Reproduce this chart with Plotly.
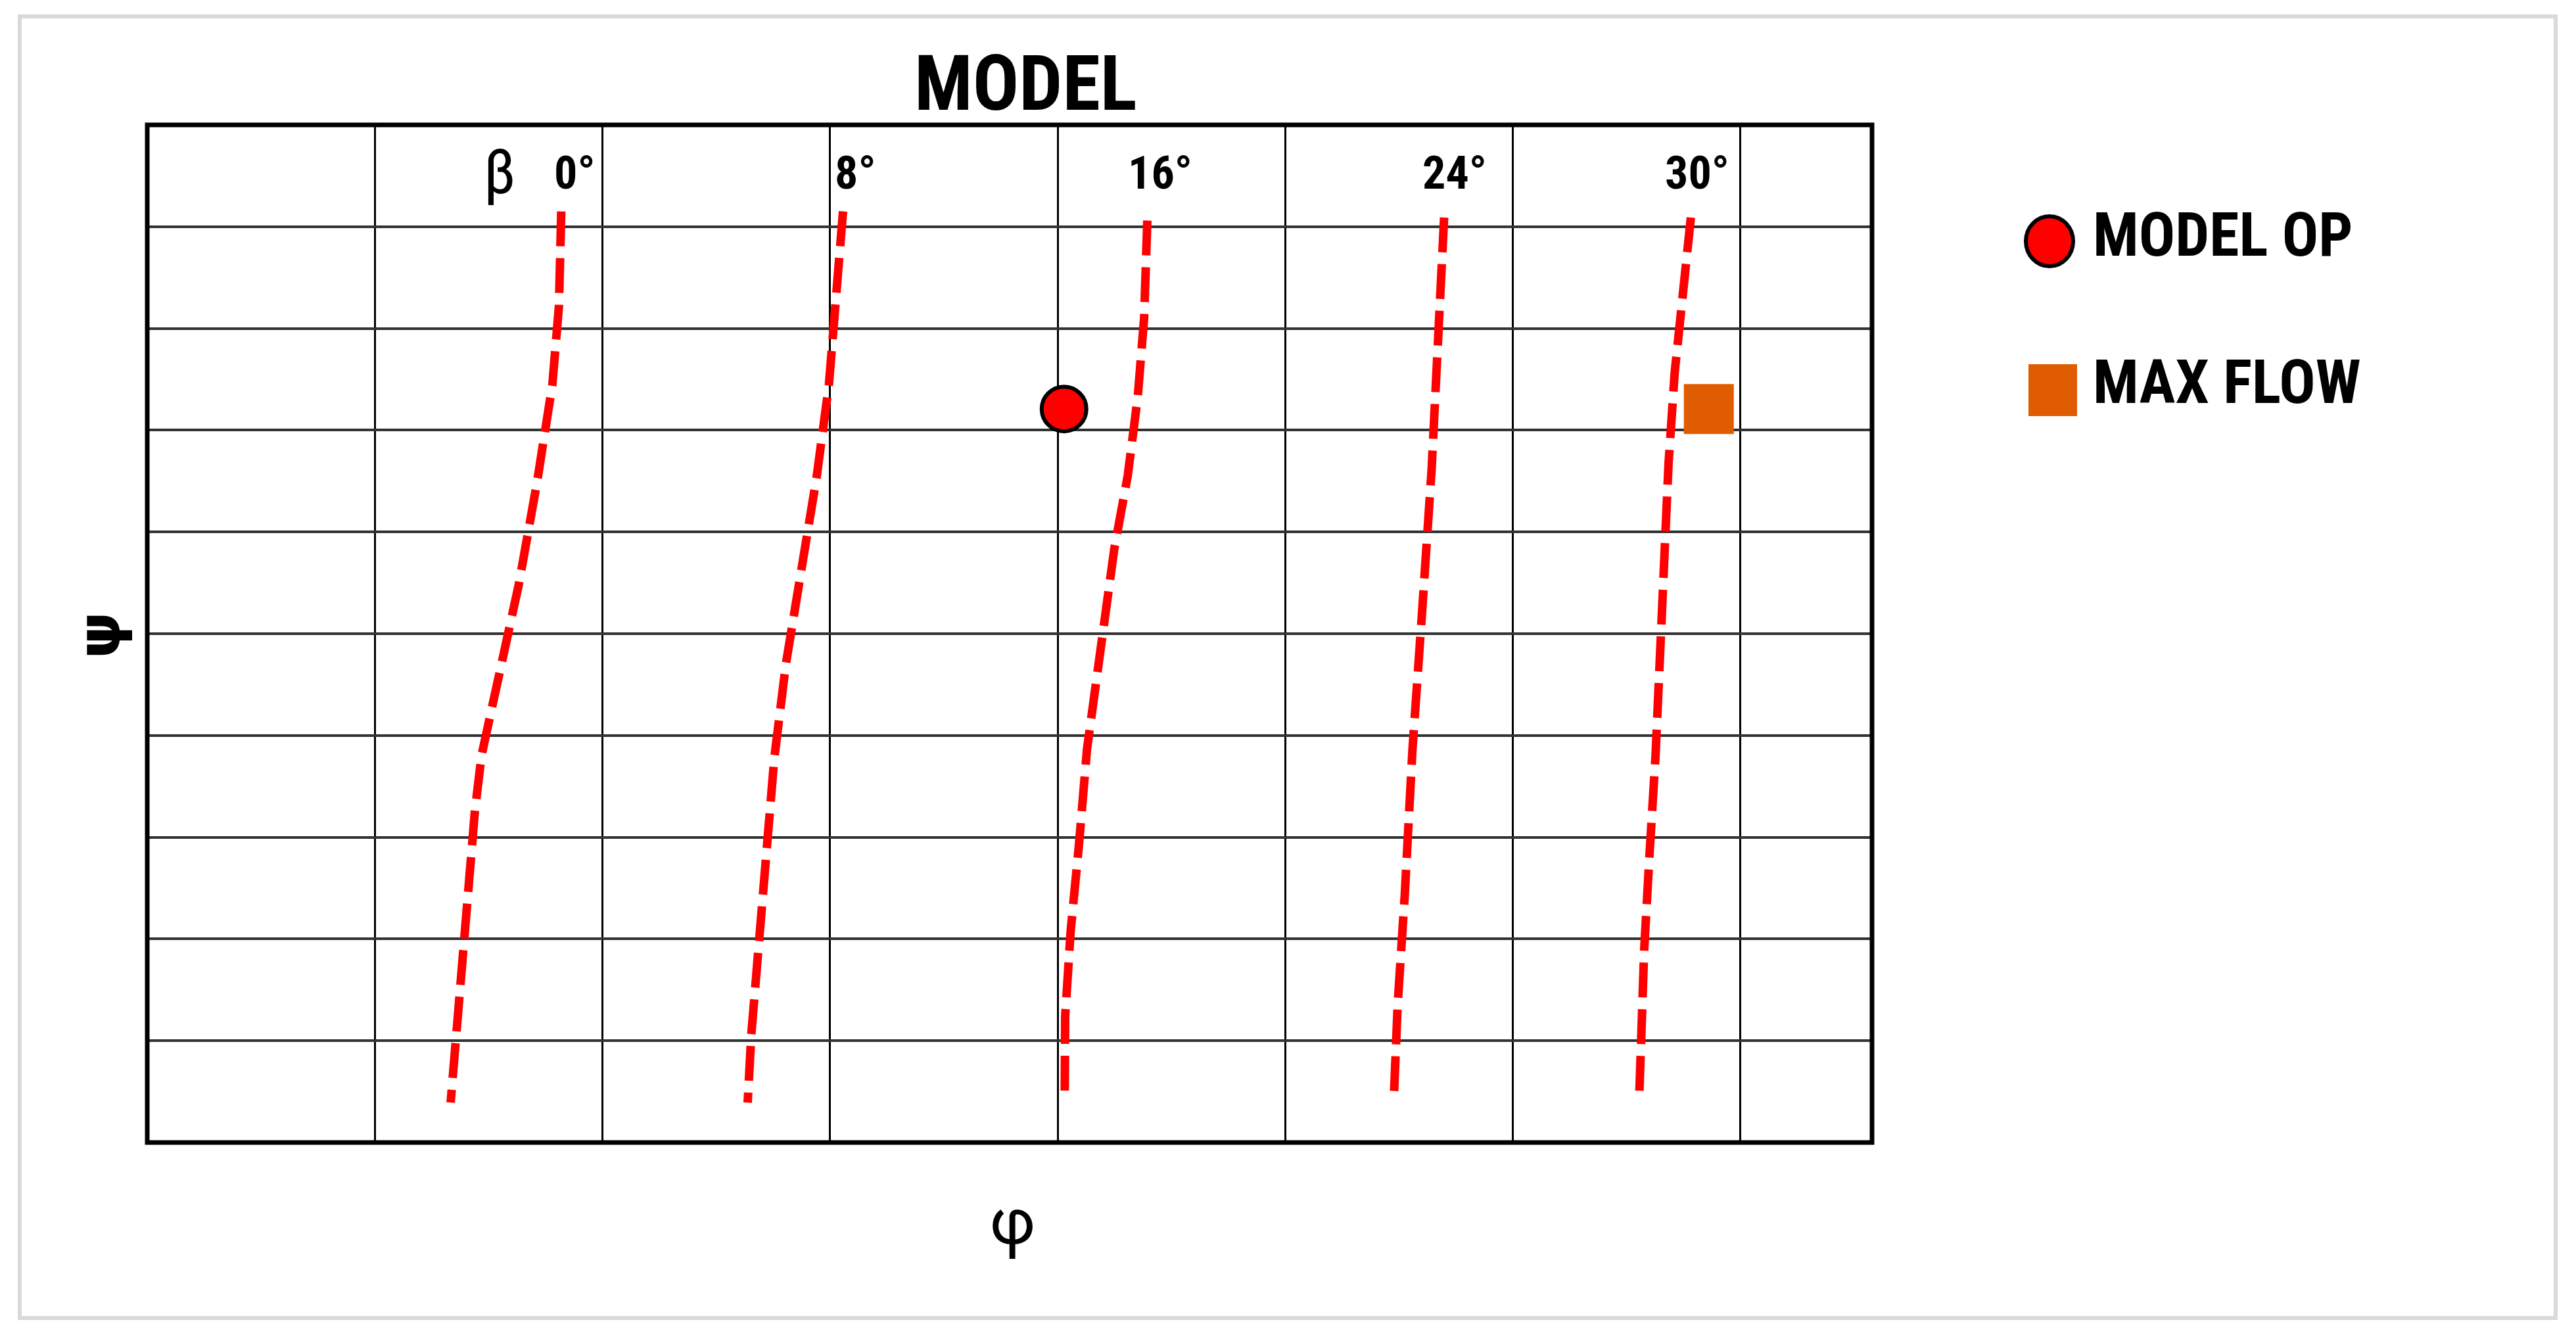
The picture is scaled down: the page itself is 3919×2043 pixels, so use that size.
import plotly.graph_objects as go

OFF = 8                      # page body margin added by the browser
W, H = 3919 - 2 * OFF, 2043 - 2 * OFF
# plot area in page pixels
PX0, PX1, PY0, PY1 = 224, 2848, 190, 1738

# ---- data (phi, psi) ----
beta_labels = ["0°", "8°", "16°", "24°", "30°"]
label_phi = [1.880, 3.113, 4.451, 5.744, 6.810]
label_psi = 9.528

phi_b0 = [1.819, 1.809, 1.780, 1.713, 1.632, 1.553, 1.469, 1.440, 1.404, 1.368, 1.333]
psi_b0 = [9.150, 8.225, 7.448, 6.493, 5.478, 4.642, 3.806, 3.269, 2.373, 1.478, 0.392]

phi_b8 = [3.057, 3.030, 2.995, 2.942, 2.870, 2.806, 2.755, 2.719, 2.686, 2.654, 2.638]
psi_b8 = [9.150, 8.374, 7.448, 6.553, 5.597, 4.702, 3.776, 2.881, 1.955, 1.060, 0.392]

phi_b16 = [4.394, 4.380, 4.352, 4.308, 4.249, 4.189, 4.129, 4.093, 4.057, 4.033, 4.031]
psi_b16 = [9.060, 8.105, 7.329, 6.553, 5.837, 4.822, 3.866, 2.911, 2.075, 1.239, 0.433]

phi_b24 = [5.698, 5.674, 5.643, 5.602, 5.559, 5.525, 5.494, 5.477]
psi_b24 = [9.090, 7.986, 6.612, 5.239, 3.866, 2.433, 1.359, 0.433]

phi_b30 = [6.782, 6.750, 6.711, 6.684, 6.667, 6.648, 6.627, 6.601, 6.577, 6.555]
psi_b30 = [9.090, 8.403, 7.567, 6.672, 5.717, 4.762, 3.806, 2.851, 1.896, 0.433]

model_op_phi = [4.028]
model_op_psi = [7.208]
max_flow_phi = [6.861]
max_flow_psi = [7.208]

lines_phi = [phi_b0, phi_b8, phi_b16, phi_b24, phi_b30]
lines_psi = [psi_b0, psi_b8, psi_b16, psi_b24, psi_b30]

BOLD = "Roboto Condensed, Lato, Roboto, sans-serif"
REG = "Roboto Condensed, Roboto, DejaVu Sans, sans-serif"

fig = go.Figure()

for lab, xs, ys in zip(beta_labels, lines_phi, lines_psi):
    fig.add_trace(go.Scatter(
        x=xs, y=ys, mode="lines", name="β " + lab,
        line=dict(color="#FF0000", width=13, dash="53px,18px"),
        showlegend=False, hoverinfo="skip"))

fig.add_trace(go.Scatter(
    x=model_op_phi, y=model_op_psi, mode="markers", name="MODEL OP",
    marker=dict(symbol="circle", size=68, color="#FF0000",
                line=dict(color="black", width=6)),
    showlegend=False))
fig.add_trace(go.Scatter(
    x=max_flow_phi, y=max_flow_psi, mode="markers", name="MAX FLOW",
    marker=dict(symbol="square", size=76, color="#E05C00",
                line=dict(width=0)),
    showlegend=False))


def px(x):
    return (x - OFF) / W


def py(y):
    return 1 - (y - OFF) / H


annotations = []
for lab, xv in zip(beta_labels, label_phi):
    annotations.append(dict(x=xv, y=label_psi, xref="x", yref="y", text=lab,
                            showarrow=False, xanchor="center", yanchor="middle",
                            font=dict(family=BOLD, size=70, color="black", weight="bold")))
annotations.append(dict(x=px(760), y=py(262), xref="paper", yref="paper", text="β",
                        showarrow=False, xanchor="center", yanchor="middle",
                        font=dict(family=REG, size=94, color="black")))
annotations.append(dict(x=px(1560), y=py(127), xref="paper", yref="paper", text="MODEL",
                        showarrow=False, xanchor="center", yanchor="middle",
                        font=dict(family=BOLD, size=117, color="black", weight="bold")))
annotations.append(dict(x=px(1540), y=py(1858), xref="paper", yref="paper", text="φ",
                        showarrow=False, xanchor="center", yanchor="middle",
                        font=dict(family="Roboto, DejaVu Sans, sans-serif", size=98, color="black")))
annotations.append(dict(x=px(150), y=py(967), xref="paper", yref="paper", text="ψ",
                        showarrow=False, xanchor="center", yanchor="middle", textangle=-90,
                        font=dict(family="DejaVu Sans, Roboto, sans-serif", size=90,
                                  color="black", weight="bold")))
annotations.append(dict(x=px(3182), y=py(357), xref="paper", yref="paper", text="MODEL OP",
                        showarrow=False, xanchor="left", yanchor="middle",
                        font=dict(family=BOLD, size=92, color="black", weight="bold")))
annotations.append(dict(x=px(3182), y=py(582), xref="paper", yref="paper", text="MAX FLOW",
                        showarrow=False, xanchor="left", yanchor="middle",
                        font=dict(family=BOLD, size=92, color="black", weight="bold")))

shapes = [
    dict(type="rect", xref="paper", yref="paper", x0=px(30), x1=px(3888), y0=py(2005), y1=py(25),
         line=dict(color="#D9D9D9", width=6), fillcolor="rgba(0,0,0,0)", layer="below"),
    dict(type="rect", xref="x domain", yref="y domain", x0=0, x1=1, y0=0, y1=1,
         line=dict(color="black", width=7), fillcolor="rgba(0,0,0,0)", layer="above"),
    dict(type="circle", xref="paper", yref="paper", x0=px(3082), x1=px(3154), y0=py(405), y1=py(329),
         line=dict(color="black", width=6), fillcolor="#FF0000"),
    dict(type="rect", xref="paper", yref="paper", x0=px(3086), x1=px(3160), y0=py(633), y1=py(554),
         line=dict(width=0), fillcolor="#E05C00"),
]

fig.update_layout(
    width=W, height=H, autosize=False,
    margin=dict(l=0, r=0, t=0, b=0, pad=0),
    paper_bgcolor="white", plot_bgcolor="white",
    showlegend=False,
    xaxis=dict(domain=[px(PX0), px(PX1)], range=[0, 7.578], tick0=0, dtick=1,
               showgrid=True, gridcolor="black", gridwidth=2.5,
               showticklabels=False, ticks="", zeroline=False, showline=False,
               fixedrange=True),
    yaxis=dict(domain=[py(PY1), py(PY0)], range=[0, 10], tick0=0, dtick=1,
               showgrid=True, gridcolor="#333333", gridwidth=4,
               showticklabels=False, ticks="", zeroline=False, showline=False,
               fixedrange=True),
    annotations=annotations,
    shapes=shapes,
)

fig.write_html("out.html")
